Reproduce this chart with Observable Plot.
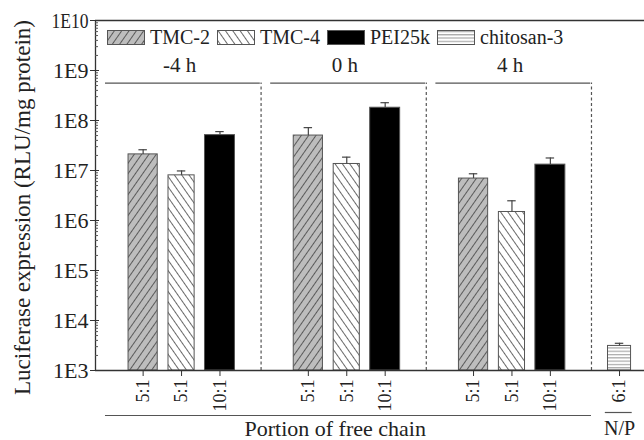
<!DOCTYPE html>
<html>
<head>
<meta charset="utf-8">
<script src="https://cdn.jsdelivr.net/npm/d3@7"></script>
<script src="https://cdn.jsdelivr.net/npm/@observablehq/plot@0.6"></script>
<style>
  html, body { margin: 0; padding: 0; background: #fff; }
  #wrap { position: relative; width: 644px; height: 440px; font-family: "Liberation Serif", "Times New Roman", serif; color: #222; }
  #wrap svg, #wrap svg text { font-family: "Liberation Serif", "Times New Roman", serif !important; }
  #legend { position: absolute; top: 26px; left: 107px; display: flex; align-items: center; font-size: 20px; white-space: nowrap; }
  #legend .item { display: flex; align-items: center; margin-right: 7px; }
  #legend svg { display: block; margin-right: 5px; }
</style>
</head>
<body>
<div id="wrap"><div id="legend"></div></div>
<script>
// ---------------- data ----------------
const groups = ["-4 h", "0 h", "4 h"];
const seriesNames = ["TMC-2", "TMC-4", "PEI25k"];
const npRatios = ["5:1", "5:1", "10:1"];
const tmc2Values = [2.1e7, 5.0e7, 6.9e6];
const tmc2Errors = [0.5e7, 2.2e7, 1.7e6];
const tmc4Values = [8.0e6, 1.35e7, 1.48e6];
const tmc4Errors = [1.8e6, 0.5e7, 1.0e6];
const peiValues = [5.1e7, 1.8e8, 1.31e7];
const peiErrors = [0.9e7, 0.47e8, 0.47e7];
const chitosanName = "chitosan-3";
const chitosanRatio = "6:1";
const chitosanValue = 3.1e3;
const chitosanError = 0.4e3;
const yTicks = [1e3, 1e4, 1e5, 1e6, 1e7, 1e8, 1e9, 1e10];
const yTickLabels = ["1E3", "1E4", "1E5", "1E6", "1E7", "1E8", "1E9", "1E10"];
const yTitle = "Luciferase expression (RLU/mg protein)";
const xTitle = "Portion of free chain";
const npLabel = "N/P";

// ---------------- layout / style ----------------
const GROUP_STEP = 4.3;
const CHITOSAN_POS = 12.4;
const X_DOMAIN = [-1.24, 13.05];
const HEADER_Y = 5.6e8;
const GROUP_LABEL_Y = 1.3e9;
const barWidth = {"TMC-2": 0.76, "TMC-4": 0.68, "PEI25k": 0.78, "chitosan-3": 0.6};
const fills = {"TMC-2": "url(#pat-tmc2)", "TMC-4": "url(#pat-tmc4)", "PEI25k": "#000", "chitosan-3": "url(#pat-chi)"};
const FONT = "Liberation Serif";
const INK = "#222";
const LINE = "#555";

const valueSets = [tmc2Values, tmc4Values, peiValues];
const errorSets = [tmc2Errors, tmc4Errors, peiErrors];
const rows = [];
groups.forEach((g, gi) => {
  seriesNames.forEach((s, si) => {
    rows.push({group: g, series: s, ratio: npRatios[si], value: valueSets[si][gi], error: errorSets[si][gi], pos: gi * GROUP_STEP + si});
  });
});
rows.push({group: null, series: chitosanName, ratio: chitosanRatio, value: chitosanValue, error: chitosanError, pos: CHITOSAN_POS});
const tickLabelByPos = new Map(rows.map(r => [r.pos, r.ratio]));

const patternDefs = `
  <pattern id="pat-tmc2" patternUnits="userSpaceOnUse" width="6" height="6" patternTransform="rotate(35)">
    <rect width="6" height="6" fill="#bdbdbd"/><line x1="0.5" y1="0" x2="0.5" y2="6" stroke="#5a5a5a" stroke-width="1"/>
  </pattern>
  <pattern id="pat-tmc4" patternUnits="userSpaceOnUse" width="6" height="6" patternTransform="rotate(-35)">
    <rect width="6" height="6" fill="#fff"/><line x1="0.5" y1="0" x2="0.5" y2="6" stroke="#6a6a6a" stroke-width="1"/>
  </pattern>
  <pattern id="pat-chi" patternUnits="userSpaceOnUse" width="6" height="3.3">
    <rect width="6" height="3.3" fill="#fff"/><line x1="0" y1="1.5" x2="6" y2="1.5" stroke="#888" stroke-width="0.9"/>
  </pattern>`;

const defsMark = () => {
  const d = document.createElementNS("http://www.w3.org/2000/svg", "defs");
  d.innerHTML = patternDefs;
  return d;
};

const minorTicks = [];
for (let e = 3; e < 10; e++) for (let m = 2; m <= 9; m++) minorTicks.push(m * Math.pow(10, e));

const chart = Plot.plot({
  width: 644,
  height: 440,
  marginLeft: 95,
  marginRight: 0,
  marginTop: 20,
  marginBottom: 70,
  style: {fontFamily: FONT, color: INK, background: "transparent"},
  x: {type: "linear", domain: X_DOMAIN, axis: null},
  y: {type: "log", domain: [1e3, 1e10], axis: null},
  marks: [
    defsMark,
    // bars
    Plot.rect(rows, {
      x1: d => d.pos - barWidth[d.series] / 2,
      x2: d => d.pos + barWidth[d.series] / 2,
      y1: () => 1e3,
      y2: d => d.value,
      fill: d => fills[d.series],
      stroke: "#555",
      strokeWidth: 1
    }),
    // error bars
    Plot.ruleX(rows, {x: "pos", y1: "value", y2: d => d.value + d.error, stroke: "#444", strokeWidth: 1.2}),
    Plot.ruleY(rows, {y: d => d.value + d.error, x1: d => d.pos - 0.11, x2: d => d.pos + 0.11, stroke: "#444", strokeWidth: 1.2}),
    // group header lines, dashed separators and labels
    Plot.ruleY(groups, {y: () => HEADER_Y, x1: (d, i) => i * GROUP_STEP - 0.98, x2: (d, i) => i * GROUP_STEP + 3.05, stroke: LINE, strokeWidth: 1.4}),
    Plot.ruleX(groups, {x: (d, i) => i * GROUP_STEP + 3.07, y1: () => 1e3, y2: () => HEADER_Y, stroke: LINE, strokeWidth: 1.2, strokeDasharray: "3,2.5"}),
    Plot.text(groups, {x: (d, i) => i * GROUP_STEP + 0.95, y: () => GROUP_LABEL_Y, text: d => d, fontSize: 21, fontFamily: FONT, fill: INK}),
    // frame lines
    Plot.ruleY([1e3, 1e10], {stroke: "#333", strokeWidth: 1.3}),
    Plot.ruleX([X_DOMAIN[0]], {y1: 1e3, y2: 1e10, stroke: "#333", strokeWidth: 1.3}),
    // y axis
    Plot.axisY({ticks: yTicks, label: null, tickSize: 5, tickPadding: 2, tickFormat: d => yTickLabels[yTicks.indexOf(d)], fontSize: 22, fontFamily: FONT, fill: INK, stroke: "#333"}),
    Plot.axisY({ticks: yTicks, label: null, tickSize: -4, tickFormat: () => "", stroke: "#333"}),
    Plot.axisY({ticks: minorTicks, label: null, tickSize: -3, tickFormat: () => "", stroke: "#555"}),
    // x axis (N/P ratio under each bar)
    Plot.axisX({ticks: rows.map(r => r.pos), label: null, tickSize: 6, tickPadding: 3, tickRotate: -90, tickFormat: d => tickLabelByPos.get(d), fontSize: 18, fontFamily: FONT, fill: INK, stroke: "#333"}),
    // bottom group line and titles
    Plot.ruleY([1e3], {x1: () => -0.98, x2: () => 2 * GROUP_STEP + 3.07, dy: 45, stroke: LINE, strokeWidth: 1.2}),
    Plot.ruleY([1e3], {x1: () => CHITOSAN_POS - 0.37, x2: () => CHITOSAN_POS + 0.33, dy: 42, stroke: LINE, strokeWidth: 1.2}),
    Plot.text([xTitle], {x: () => 5.0, y: () => 1e3, dy: 58, text: d => d, fontSize: 22, fontFamily: FONT, fill: INK}),
    Plot.text([npLabel], {x: () => CHITOSAN_POS, y: () => 1e3, dy: 58, text: d => d, fontSize: 20, fontFamily: FONT, fill: INK}),
    Plot.text([yTitle], {frameAnchor: "left", textAnchor: "middle", rotate: -90, dx: -73, dy: 12, text: d => d, fontSize: 23, fontFamily: FONT, fill: INK})
  ]
});

// the reference prints "1E10" condensed to the width of the other tick labels
d3.select(chart).selectAll("text").filter(function () { return this.textContent === "1E10"; })
  .attr("textLength", 37).attr("lengthAdjust", "spacingAndGlyphs");

const wrap = document.getElementById("wrap");
wrap.insertBefore(chart, wrap.firstChild);

// legend (HTML overlay inside the frame)
const legend = document.getElementById("legend");
[...seriesNames, chitosanName].forEach(name => {
  const item = document.createElement("div");
  item.className = "item";
  item.innerHTML = `<svg width="38" height="15"><rect x="0.5" y="0.5" width="37" height="14" fill="${fills[name]}" stroke="#555" stroke-width="1"/></svg><span>${name}</span>`;
  legend.appendChild(item);
});
</script>
</body>
</html>
